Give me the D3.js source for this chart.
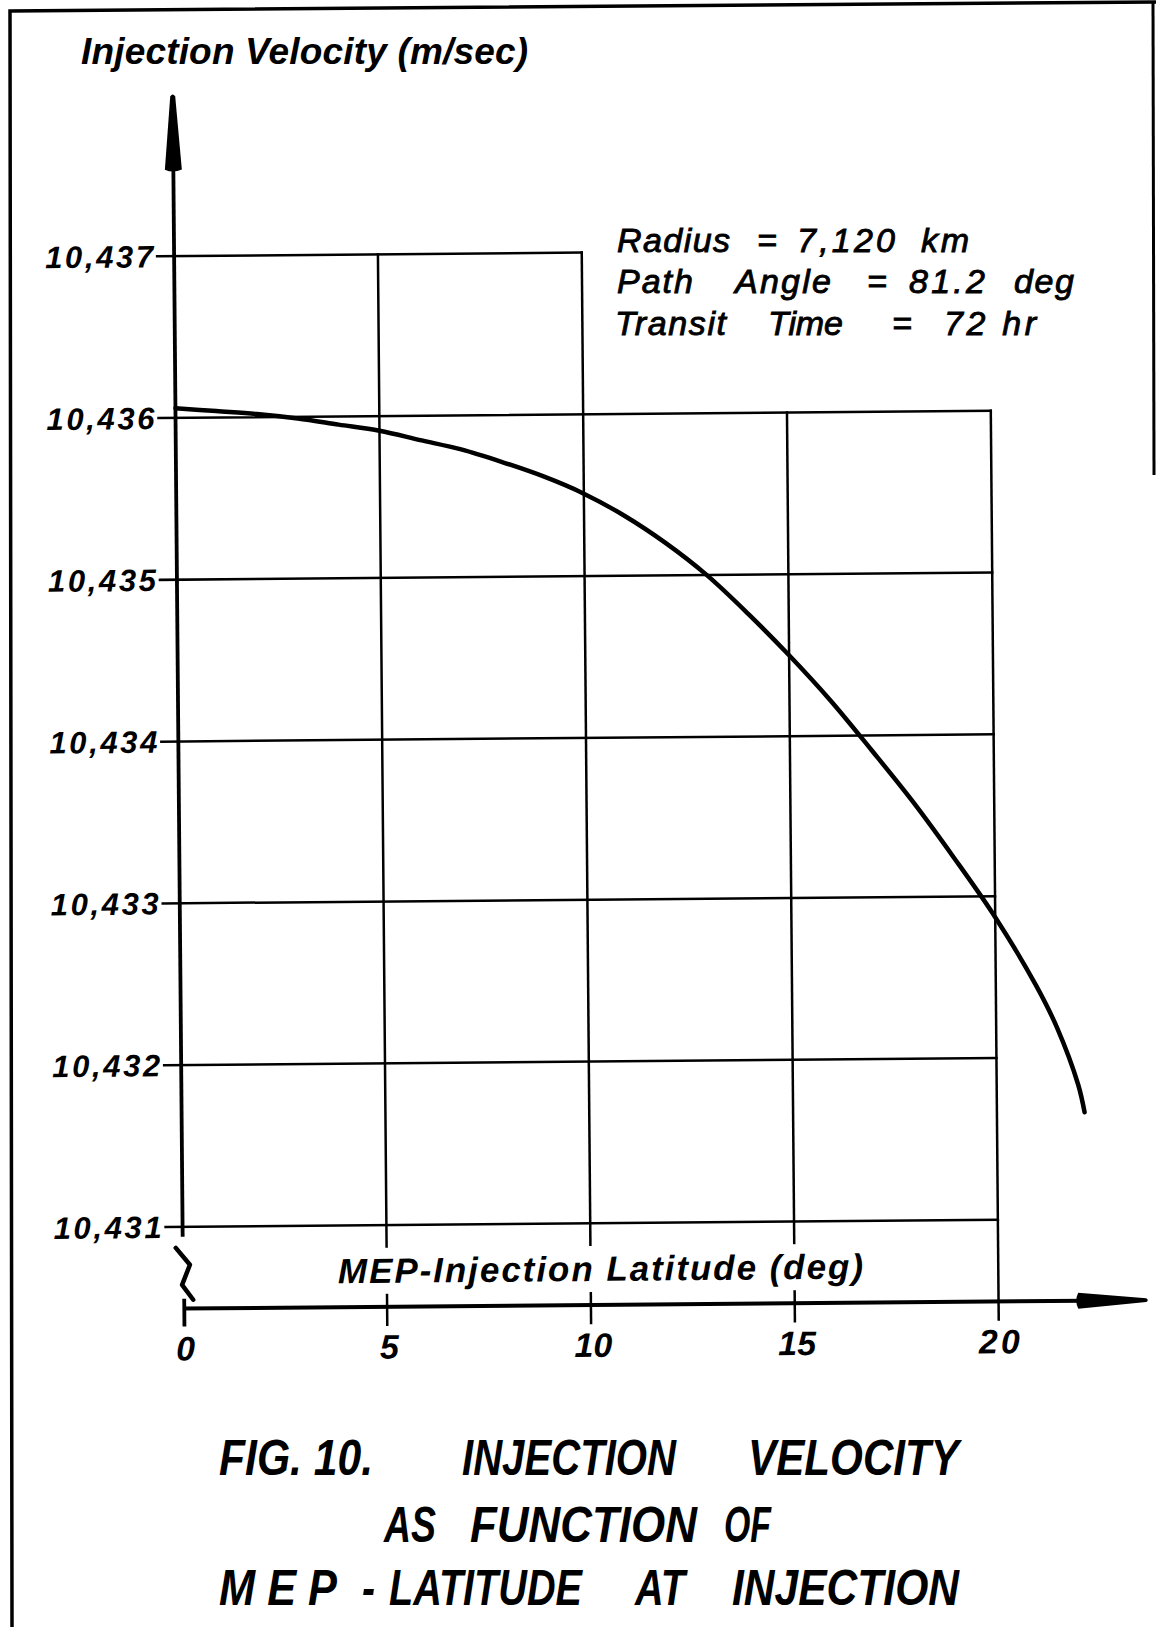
<!DOCTYPE html>
<html><head><meta charset="utf-8">
<script src="https://cdn.jsdelivr.net/npm/d3@7/dist/d3.min.js"></script>
<style>body{margin:0;background:#fff}svg{display:block}</style>
</head><body>
<script>
// ---------- data ----------
const latitude = [0, 1, 2, 3, 4, 5, 6, 7, 8, 9, 10, 11, 12, 13, 14, 15, 16, 17, 18, 19, 20, 21, 21.5, 22, 22.15];
const velocity = [10436.06, 10436.04, 10436.02, 10435.99, 10435.95, 10435.91, 10435.85, 10435.79, 10435.71, 10435.62,
                  10435.51, 10435.37, 10435.20, 10435.00, 10434.76, 10434.50, 10434.22, 10433.91, 10433.59, 10433.24,
                  10432.87, 10432.44, 10432.18, 10431.83, 10431.66];
const xTicks = [0, 5, 10, 15, 20];
const xTickLabels = ["0", "5", "10", "15", "20"];
const yTicks = [10431, 10432, 10433, 10434, 10435, 10436, 10437];
const yTickLabels = ["10,431", "10,432", "10,433", "10,434", "10,435", "10,436", "10,437"];
const yAxisTitle = "Injection Velocity (m/sec)";
const xAxisTitle = "MEP-Injection Latitude (deg)";
const noteLine1 = ["Radius", "=", "7,120", "km"];
const noteLine2 = ["Path", "Angle", "=", "81.2", "deg"];
const noteLine3 = ["Transit", "Time", "=", "72 hr"];
const caption1 = ["FIG. 10.", "INJECTION", "VELOCITY"];
const caption2 = ["AS", "FUNCTION", "OF"];
const caption3 = ["M E P", "-", "LATITUDE", "AT", "INJECTION"];

// ---------- layout ----------
const W = 1156, H = 1627;
const FONT = "'Liberation Sans', Arial, sans-serif";
const svg = d3.select("body").append("svg").attr("width", W).attr("height", H);
svg.append("rect").attr("width", W).attr("height", H).attr("fill", "#fff");

// frame
svg.append("path").attr("d", "M12,1627 L10,11 L1156,2").attr("fill", "none")
  .attr("stroke", "#000").attr("stroke-width", 3.5);
svg.append("line").attr("x1", 1153).attr("y1", 2).attr("x2", 1154).attr("y2", 475)
  .attr("stroke", "#000").attr("stroke-width", 3);

const x = d3.scaleLinear().domain([0, 20]).range([178, 993.3]);
const y = d3.scaleLinear().domain([10431, 10437]).range([1223.3, 252.6]);
const axisY = 1305;
const x0 = x(0);

const g = svg.append("g").attr("transform", "rotate(-0.5,585,700)");

// horizontal grid lines
g.selectAll("line.h").data(yTicks).join("line").attr("class", "h")
  .attr("x1", x0 - 17).attr("x2", d => d === 10437 ? x(10) : x(20))
  .attr("y1", d => y(d)).attr("y2", d => y(d))
  .attr("stroke", "#000").attr("stroke-width", 2.5).attr("stroke-linecap", "square");

// vertical grid lines (extend below x-axis as ticks)
g.selectAll("line.v").data(xTicks.filter(t => t > 0)).join("line").attr("class", "v")
  .attr("x1", d => x(d)).attr("x2", d => x(d))
  .attr("y1", d => d <= 10 ? y(10437) : y(10436)).attr("y2", axisY + 18)
  .attr("stroke", "#000").attr("stroke-width", 2.5).attr("stroke-linecap", "square");

// x-axis title with gap behind
const xtW = 525, xtX = 333, xtBase = 1281;
g.append("rect").attr("x", xtX - 8).attr("y", 1246).attr("width", xtW + 22).attr("height", 46).attr("fill", "#fff");
g.append("text").attr("x", xtX).attr("y", xtBase).text(xAxisTitle)
  .attr("font-family", FONT).attr("font-style", "italic").attr("font-weight", "bold")
  .attr("font-size", 35).attr("textLength", xtW).attr("lengthAdjust", "spacing");

// y axis
g.append("line").attr("x1", x0).attr("x2", x0).attr("y1", 160).attr("y2", y(10431) + 10)
  .attr("stroke", "#000").attr("stroke-width", 3.8);
g.append("path").attr("d", `M${x0 - 2.5},93 Q${x0},89 ${x0 + 2.5},93 L${x0 + 8.5},166 Q${x0},170 ${x0 - 8.5},166 Z`)
  .attr("fill", "#000");
// axis break
const yb = y(10431);
g.append("path").attr("d", `M${x0 - 7},${yb + 21} L${x0 + 7},${yb + 38} L${x0 - 1},${yb + 58} L${x0 + 10},${yb + 73}`)
  .attr("fill", "none").attr("stroke", "#000").attr("stroke-width", 4.5).attr("stroke-linecap", "round").attr("stroke-linejoin", "round");
g.append("line").attr("x1", x0 + 1).attr("x2", x0 + 1).attr("y1", yb + 72).attr("y2", axisY + 18)
  .attr("stroke", "#000").attr("stroke-width", 3.8);

// x axis
g.append("line").attr("x1", x0).attr("x2", 1080).attr("y1", axisY).attr("y2", axisY)
  .attr("stroke", "#000").attr("stroke-width", 4);
g.append("path").attr("d", `M1073,${axisY - 8} Q1069,${axisY} 1073,${axisY + 8} L1141,${axisY + 2} Q1144,${axisY} 1141,${axisY - 2} Z`)
  .attr("fill", "#000");

// y tick labels
g.selectAll("text.yl").data(yTicks).join("text").attr("class", "yl")
  .attr("x", x0 - 21).attr("y", d => y(d) + 11).attr("text-anchor", "end")
  .text((d, i) => yTickLabels[i])
  .attr("font-family", FONT).attr("font-style", "italic").attr("font-weight", "bold")
  .attr("font-size", 31).attr("textLength", 108).attr("lengthAdjust", "spacing");

// x tick labels
g.selectAll("text.xl").data(xTicks).join("text").attr("class", "xl")
  .attr("x", d => x(d) + 2).attr("y", axisY + 52).attr("text-anchor", "middle")
  .text((d, i) => xTickLabels[i])
  .attr("font-family", FONT).attr("font-style", "italic").attr("font-weight", "bold")
  .attr("font-size", 34)
  .attr("letter-spacing", (d, i) => xTickLabels[i] === "20" ? 3 : 0);

// curve
const pts = latitude.map((d, i) => [d, velocity[i]]);
g.append("path").datum(pts)
  .attr("d", d3.line().x(d => x(d[0])).y(d => y(d[1])).curve(d3.curveCatmullRom.alpha(0.5)))
  .attr("fill", "none").attr("stroke", "#000").attr("stroke-width", 4.5).attr("stroke-linecap", "round");

// ---------- texts outside plot ----------
function words(list, xs, ws, base, size, weight, adj, extraStroke) {
  list.forEach((w, i) => {
    const t = svg.append("text").attr("x", xs[i]).attr("y", base).text(w)
      .attr("font-family", FONT).attr("font-style", "italic").attr("font-weight", weight)
      .attr("font-size", size);
    if (ws[i]) t.attr("textLength", ws[i]).attr("lengthAdjust", adj);
    if (extraStroke) t.attr("stroke", "#000").attr("stroke-width", extraStroke);
  });
}

svg.append("text").attr("x", 81).attr("y", 64).text(yAxisTitle)
  .attr("font-family", FONT).attr("font-style", "italic").attr("font-weight", "bold")
  .attr("font-size", 37).attr("textLength", 447).attr("lengthAdjust", "spacing");

words(noteLine1, [617, 757, 797, 921], [113, 0, 98, 48], 252, 34, "normal", "spacing", 0.9);
words(noteLine2, [617, 735, 867, 909, 1014], [76, 96, 0, 76, 60], 293, 34, "normal", "spacing", 0.9);
words(noteLine3, [615, 768, 892, 944], [111, 75, 0, 92], 335, 34, "normal", "spacing", 0.9);

words(caption1, [219, 462, 748], [154, 214, 211], 1475, 50, "bold", "spacingAndGlyphs");
words(caption2, [384, 470, 724], [52, 227, 47], 1542, 50, "bold", "spacingAndGlyphs");
words(caption3, [219, 362, 389, 635, 732], [118, 13, 193, 50, 227], 1605, 50, "bold", "spacingAndGlyphs");
</script>
</body></html>
